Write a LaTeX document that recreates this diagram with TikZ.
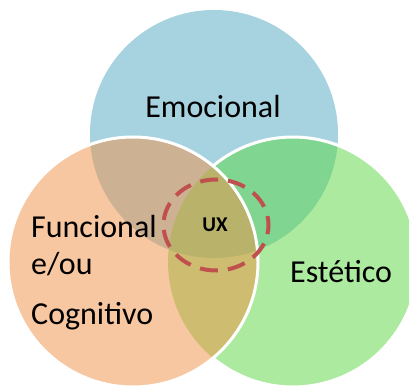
\documentclass[tikz,border=0pt]{standalone}
\usepackage{fontspec}
\setmainfont{Carlito}
\usetikzlibrary{shapes.geometric}
\definecolor{cblue}{RGB}{167,211,224}
\definecolor{corange}{RGB}{241,145,69}
\definecolor{cgreen}{RGB}{91,215,65}
\definecolor{cred}{RGB}{192,80,77}
\begin{document}
\begin{tikzpicture}[x=1pt,y=1pt,
  lbl/.style={font=\fontsize{32}{32}\selectfont, inner sep=0pt, anchor=base west},
  rim/.style={draw=white, line width=3pt}]
\useasboundingbox (0,0) rectangle (409,385);
\fill[white] (0,0) rectangle (409,385);
\coordinate (cb) at (214,251);
\coordinate (co) at (133,123);
\coordinate (cg) at (293,123);
\begin{scope}
\clip (0,0) rectangle (409,385);
\fill[cblue] (cb) circle[radius=124];
\fill[cgreen, fill opacity=0.5] (cg) circle[radius=125];
\fill[corange, fill opacity=0.5] (co) circle[radius=125];
\draw[rim] (cg) ++(-129.8:125) arc[start angle=-129.8, end angle=129.8, radius=125];
\draw[rim] (co) circle[radius=125];
\end{scope}
\node[draw=cred, line width=4pt, dash pattern=on 18pt off 10pt, dash phase=9pt,
      ellipse, minimum width=105pt, minimum height=91pt, inner sep=0pt] (ring) at (216,160) {};
\node[lbl, anchor=base] (emo) at (213,267) {Emocional};
\node[lbl] (fun) at (31,147) {Funcional};
\node[lbl] (eou) at (31,110) {e/ou};
\node[lbl] (cog) at (31,60) {Cognitivo};
\node[lbl] (est) at (290,102) {Estético};
\node[font=\bfseries\fontsize{21}{21}\selectfont, inner sep=0pt, anchor=base] (ux) at (215,153) {UX};
\end{tikzpicture}
\end{document}
